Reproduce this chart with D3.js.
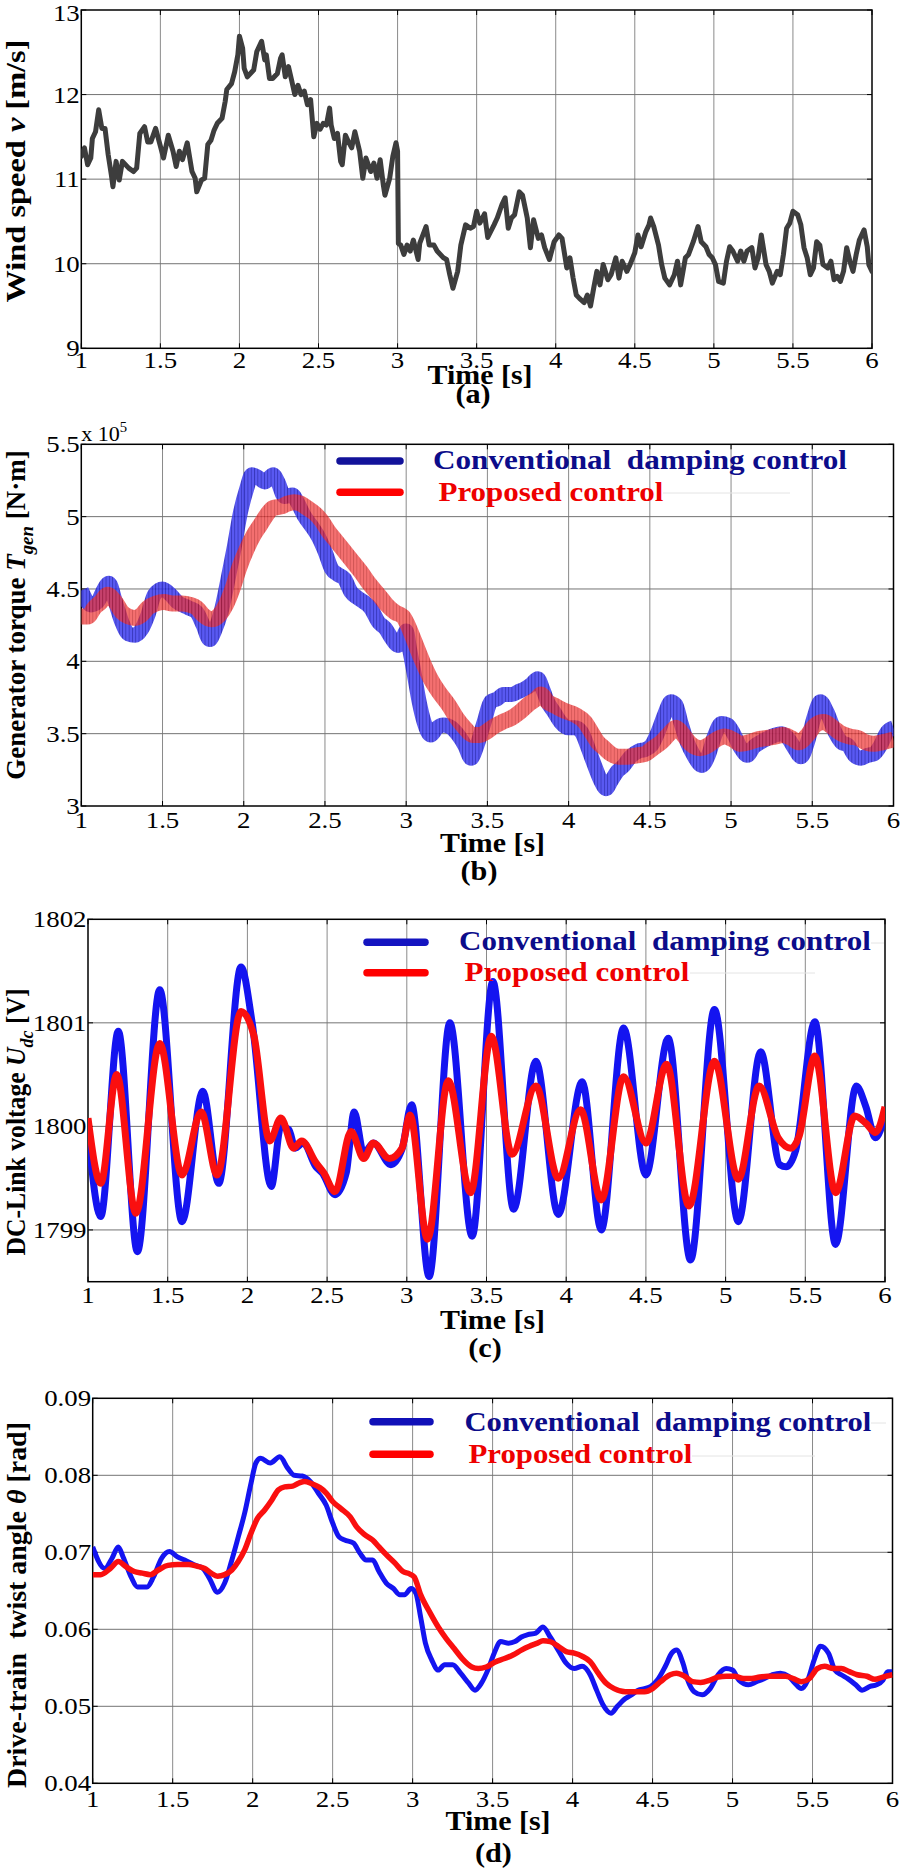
<!DOCTYPE html>
<html><head><meta charset="utf-8">
<script src="https://cdnjs.cloudflare.com/ajax/libs/d3/7.8.5/d3.min.js"></script>
<style>body{margin:0;background:#fff}svg{display:block}</style>
</head><body>
<svg id="chart" width="904" height="1868"></svg>
<script>
// ---------------- DATA ----------------
const timeTicks = [1,1.5,2,2.5,3,3.5,4,4.5,5,5.5,6];
const timeTickLabels = ["1","1.5","2","2.5","3","3.5","4","4.5","5","5.5","6"];
const windTicks = [9,10,11,12,13];
const windTickLabels = ["9","10","11","12","13"];
const torqueTicks = [3,3.5,4,4.5,5,5.5];
const torqueTickLabels = ["3","3.5","4","4.5","5","5.5"];
const voltTicks = [1799,1800,1801,1802];
const voltTickLabels = ["1799","1800","1801","1802"];
const twistTicks = [0.04,0.05,0.06,0.07,0.08,0.09];
const twistTickLabels = ["0.04","0.05","0.06","0.07","0.08","0.09"];
const seriesNames = ["Conventional  damping control","Proposed control"];

const windTime = [1.00,1.02,1.04,1.06,1.07,1.09,1.11,1.13,1.15,1.17,1.19,1.20,1.22,1.24,1.26,1.30,1.33,1.35,1.37,1.40,1.42,1.44,1.47,1.50,1.52,1.55,1.58,1.60,1.62,1.64,1.67,1.70,1.72,1.73,1.76,1.78,1.80,1.82,1.84,1.86,1.89,1.91,1.92,1.95,1.97,1.99,2.00,2.02,2.03,2.05,2.09,2.11,2.14,2.16,2.17,2.19,2.21,2.24,2.26,2.27,2.29,2.31,2.33,2.35,2.37,2.39,2.41,2.43,2.45,2.47,2.49,2.51,2.53,2.55,2.57,2.58,2.60,2.62,2.64,2.65,2.67,2.69,2.71,2.73,2.76,2.78,2.80,2.83,2.85,2.87,2.89,2.91,2.92,2.95,2.97,2.99,3.00,3.005,3.02,3.04,3.06,3.08,3.10,3.13,3.14,3.18,3.20,3.23,3.25,3.29,3.31,3.33,3.35,3.38,3.40,3.43,3.46,3.48,3.50,3.52,3.55,3.57,3.61,3.63,3.66,3.68,3.70,3.72,3.74,3.77,3.79,3.82,3.84,3.86,3.89,3.91,3.93,3.96,3.99,4.02,4.04,4.07,4.09,4.11,4.13,4.15,4.18,4.20,4.22,4.24,4.26,4.28,4.30,4.33,4.35,4.38,4.40,4.42,4.45,4.47,4.50,4.52,4.54,4.57,4.59,4.60,4.62,4.65,4.67,4.69,4.72,4.75,4.77,4.79,4.82,4.84,4.87,4.90,4.92,4.95,4.97,4.99,5.01,5.03,5.06,5.08,5.10,5.12,5.15,5.17,5.19,5.21,5.24,5.26,5.28,5.30,5.33,5.35,5.37,5.40,5.42,5.44,5.46,5.48,5.50,5.53,5.55,5.57,5.59,5.61,5.63,5.65,5.67,5.69,5.72,5.74,5.76,5.78,5.80,5.82,5.84,5.86,5.88,5.90,5.92,5.95,5.97,5.98,6.00];
const windSpeed = [11.27,11.37,11.17,11.25,11.48,11.56,11.82,11.60,11.60,11.29,11.05,10.91,11.21,10.99,11.21,11.13,11.09,11.13,11.54,11.62,11.44,11.44,11.60,11.39,11.25,11.52,11.33,11.15,11.33,11.23,11.43,11.09,11.01,10.85,10.99,11.01,11.41,11.46,11.58,11.66,11.72,11.92,12.06,12.13,12.27,12.47,12.69,12.55,12.31,12.21,12.29,12.51,12.63,12.41,12.47,12.19,12.19,12.25,12.43,12.47,12.21,12.33,12.17,12.00,12.11,12.00,12.04,11.88,11.94,11.50,11.66,11.59,11.66,11.64,11.84,11.64,11.48,11.54,11.21,11.17,11.52,11.44,11.37,11.56,11.33,11.01,11.25,11.09,11.19,11.01,11.23,10.93,10.81,11.01,11.27,11.43,11.33,10.24,10.22,10.11,10.22,10.15,10.28,10.05,10.24,10.44,10.22,10.22,10.15,10.07,10.05,9.87,9.71,9.91,10.22,10.46,10.42,10.44,10.62,10.48,10.59,10.31,10.46,10.54,10.70,10.78,10.42,10.54,10.58,10.85,10.81,10.54,10.19,10.52,10.30,10.34,10.19,10.05,10.26,10.34,10.30,9.95,10.07,9.83,9.63,9.59,9.54,9.63,9.50,9.71,9.91,9.75,9.99,9.81,9.87,10.07,9.83,10.03,9.91,9.99,10.13,10.34,10.20,10.38,10.46,10.54,10.44,10.22,9.99,9.83,9.75,9.87,10.03,9.75,10.07,10.11,10.26,10.44,10.26,10.20,10.11,10.07,9.99,9.79,9.77,10.03,10.20,10.15,10.03,10.15,10.03,10.15,10.19,9.95,10.07,10.34,9.99,9.91,9.77,9.91,9.87,10.11,10.42,10.48,10.62,10.58,10.46,10.19,10.07,9.87,9.95,10.26,10.22,9.99,9.95,10.03,9.81,9.85,9.79,9.91,10.19,10.03,9.91,10.11,10.28,10.40,10.20,9.99,9.91];

// Generator torque, x 10^5 N·m
const torqueConvTime = [1.00,1.06,1.10,1.14,1.17,1.21,1.25,1.29,1.33,1.37,1.41,1.45,1.50,1.55,1.59,1.66,1.71,1.75,1.79,1.82,1.86,1.90,1.94,1.98,2.02,2.05,2.09,2.13,2.18,2.21,2.25,2.30,2.33,2.37,2.42,2.46,2.50,2.54,2.58,2.62,2.66,2.70,2.74,2.78,2.83,2.87,2.91,2.95,2.98,3.00,3.02,3.05,3.08,3.11,3.15,3.19,3.23,3.28,3.32,3.36,3.40,3.43,3.48,3.52,3.56,3.60,3.65,3.69,3.73,3.77,3.81,3.84,3.87,3.91,3.95,4.00,4.04,4.08,4.12,4.16,4.20,4.23,4.26,4.30,4.34,4.38,4.43,4.47,4.51,4.55,4.59,4.63,4.66,4.69,4.73,4.77,4.82,4.86,4.90,4.94,4.98,5.02,5.06,5.10,5.14,5.18,5.23,5.27,5.31,5.35,5.39,5.43,5.47,5.51,5.55,5.59,5.64,5.68,5.72,5.76,5.80,5.84,5.88,5.92,5.96,6.00];
const torqueConvValue = [4.49,4.39,4.41,4.50,4.54,4.41,4.27,4.19,4.18,4.22,4.32,4.46,4.50,4.46,4.41,4.37,4.34,4.25,4.15,4.21,4.34,4.55,4.78,5.03,5.20,5.29,5.27,5.24,5.29,5.24,5.14,5.15,5.10,5.01,4.93,4.86,4.76,4.64,4.60,4.57,4.48,4.44,4.41,4.37,4.27,4.23,4.16,4.11,4.16,4.21,4.09,3.91,3.72,3.58,3.49,3.54,3.56,3.54,3.49,3.42,3.33,3.40,3.58,3.72,3.74,3.77,3.77,3.79,3.81,3.84,3.88,3.81,3.72,3.65,3.58,3.54,3.54,3.51,3.40,3.28,3.17,3.12,3.17,3.24,3.28,3.34,3.38,3.39,3.42,3.51,3.63,3.72,3.70,3.58,3.44,3.35,3.28,3.35,3.49,3.57,3.56,3.49,3.40,3.35,3.41,3.44,3.47,3.49,3.50,3.47,3.40,3.34,3.44,3.61,3.72,3.65,3.51,3.44,3.42,3.35,3.33,3.35,3.36,3.42,3.51,3.54];
const torquePropTime = [1.00,1.04,1.08,1.12,1.16,1.21,1.25,1.29,1.33,1.37,1.41,1.46,1.51,1.56,1.62,1.67,1.71,1.75,1.80,1.85,1.89,1.93,1.97,2.02,2.06,2.10,2.14,2.18,2.23,2.27,2.31,2.35,2.39,2.44,2.48,2.52,2.57,2.62,2.67,2.72,2.77,2.83,2.88,2.93,2.98,3.01,3.05,3.10,3.15,3.20,3.26,3.31,3.36,3.41,3.45,3.49,3.54,3.59,3.65,3.70,3.75,3.80,3.83,3.87,3.92,3.97,4.04,4.10,4.14,4.18,4.22,4.26,4.31,4.36,4.42,4.47,4.52,4.57,4.62,4.66,4.70,4.75,4.81,4.86,4.91,4.96,5.01,5.06,5.11,5.16,5.22,5.27,5.32,5.37,5.42,5.47,5.52,5.57,5.63,5.68,5.73,5.78,5.83,5.88,5.93,6.00];
const torquePropValue = [4.31,4.31,4.37,4.41,4.46,4.41,4.34,4.31,4.30,4.32,4.37,4.40,4.41,4.40,4.40,4.39,4.37,4.32,4.29,4.32,4.39,4.50,4.64,4.78,4.87,4.94,5.01,5.06,5.07,5.09,5.10,5.09,5.06,5.02,4.97,4.90,4.83,4.76,4.69,4.62,4.54,4.46,4.39,4.34,4.31,4.25,4.14,4.00,3.88,3.79,3.70,3.61,3.54,3.49,3.49,3.51,3.55,3.58,3.61,3.65,3.70,3.74,3.77,3.72,3.69,3.66,3.63,3.58,3.51,3.44,3.40,3.36,3.34,3.34,3.35,3.36,3.40,3.44,3.50,3.54,3.50,3.43,3.40,3.42,3.46,3.48,3.46,3.43,3.44,3.46,3.47,3.48,3.49,3.47,3.44,3.49,3.56,3.58,3.54,3.50,3.48,3.47,3.44,3.43,3.44,3.46];

// DC-link voltage [V]
const voltConvTime = [1.00,1.08,1.19,1.31,1.45,1.59,1.72,1.82,1.96,2.03,2.15,2.21,2.26,2.30,2.35,2.43,2.47,2.55,2.62,2.67,2.73,2.79,2.90,2.97,3.03,3.14,3.27,3.41,3.54,3.67,3.81,3.95,4.10,4.22,4.36,4.50,4.64,4.78,4.93,5.08,5.22,5.34,5.38,5.44,5.56,5.69,5.82,5.88,5.94,6.00];
const voltConvValue = [1799.95,1799.13,1800.92,1798.79,1801.32,1799.08,1800.34,1799.45,1801.54,1801.00,1799.42,1800.00,1799.97,1799.79,1799.84,1799.61,1799.55,1799.34,1799.55,1800.14,1799.74,1799.84,1799.63,1799.78,1800.21,1798.55,1801.00,1798.94,1801.40,1799.20,1800.63,1799.15,1800.43,1799.00,1800.95,1799.53,1800.85,1798.71,1801.13,1799.08,1800.72,1799.63,1799.61,1799.77,1801.01,1798.86,1800.39,1800.19,1799.89,1800.11];
const voltPropTime = [1.00,1.08,1.18,1.30,1.45,1.59,1.71,1.81,1.96,2.04,2.14,2.21,2.29,2.34,2.43,2.48,2.55,2.65,2.73,2.79,2.89,2.97,3.02,3.13,3.26,3.40,3.53,3.66,3.81,3.95,4.09,4.22,4.36,4.50,4.63,4.77,4.93,5.08,5.21,5.33,5.41,5.46,5.56,5.69,5.81,5.88,5.94,6.00];
const voltPropValue = [1800.08,1799.45,1800.50,1799.16,1800.80,1799.53,1800.14,1799.53,1801.11,1800.88,1799.86,1800.08,1799.79,1799.86,1799.65,1799.55,1799.37,1799.95,1799.69,1799.84,1799.69,1799.79,1800.11,1798.91,1800.44,1799.36,1800.87,1799.73,1800.39,1799.50,1800.16,1799.29,1800.48,1799.84,1800.60,1799.23,1800.63,1799.49,1800.39,1799.89,1799.79,1799.90,1800.68,1799.36,1800.10,1800.03,1799.94,1800.19];

// Drive-train twist angle [rad]
const twistConvTime = [1.00,1.075,1.12,1.16,1.19,1.24,1.28,1.34,1.38,1.43,1.48,1.53,1.575,1.63,1.69,1.73,1.78,1.825,1.87,1.91,1.95,1.99,2.02,2.05,2.11,2.17,2.22,2.26,2.31,2.36,2.41,2.46,2.50,2.54,2.575,2.63,2.67,2.71,2.75,2.79,2.835,2.88,2.92,2.95,2.99,3.02,3.05,3.08,3.12,3.16,3.20,3.25,3.30,3.35,3.39,3.43,3.47,3.51,3.55,3.60,3.64,3.68,3.72,3.77,3.815,3.86,3.91,3.96,4.01,4.06,4.11,4.15,4.19,4.24,4.28,4.33,4.37,4.41,4.45,4.49,4.53,4.58,4.62,4.65,4.69,4.72,4.76,4.81,4.86,4.91,4.96,5.00,5.04,5.10,5.15,5.20,5.25,5.30,5.35,5.39,5.43,5.47,5.51,5.55,5.60,5.64,5.68,5.72,5.77,5.81,5.86,5.90,5.94,5.97,6.00];
const twistConvValue = [0.0707,0.0679,0.0692,0.0707,0.0694,0.0668,0.0655,0.0655,0.0668,0.0692,0.0701,0.0694,0.0690,0.0684,0.0679,0.0666,0.0648,0.0660,0.0690,0.0720,0.0751,0.0790,0.0816,0.0822,0.0816,0.0824,0.0809,0.0800,0.0799,0.0792,0.0777,0.0761,0.0738,0.0720,0.0716,0.0712,0.0699,0.0690,0.0690,0.0675,0.0660,0.0653,0.0645,0.0645,0.0653,0.0647,0.0616,0.0582,0.0560,0.0547,0.0554,0.0554,0.0543,0.0530,0.0521,0.0530,0.0547,0.0569,0.0584,0.0582,0.0584,0.0590,0.0593,0.0595,0.0603,0.0590,0.0573,0.0556,0.0549,0.0552,0.0541,0.0521,0.0502,0.0491,0.0500,0.0510,0.0515,0.0521,0.0523,0.0526,0.0534,0.0552,0.0569,0.0573,0.0556,0.0534,0.0519,0.0515,0.0523,0.0541,0.0549,0.0547,0.0534,0.0528,0.0532,0.0536,0.0541,0.0543,0.0539,0.0530,0.0523,0.0534,0.0560,0.0578,0.0569,0.0547,0.0541,0.0536,0.0528,0.0521,0.0526,0.0528,0.0534,0.0545,0.0545];
const twistPropTime = [1.00,1.05,1.11,1.16,1.21,1.26,1.31,1.36,1.41,1.47,1.53,1.60,1.65,1.70,1.74,1.78,1.825,1.87,1.91,1.95,1.99,2.03,2.075,2.12,2.16,2.20,2.25,2.29,2.325,2.37,2.42,2.46,2.50,2.55,2.61,2.65,2.70,2.75,2.79,2.835,2.89,2.94,2.98,3.01,3.05,3.11,3.16,3.21,3.26,3.31,3.37,3.41,3.46,3.52,3.575,3.63,3.68,3.73,3.78,3.815,3.86,3.91,3.96,4.01,4.06,4.11,4.16,4.21,4.26,4.33,4.39,4.45,4.50,4.55,4.61,4.65,4.70,4.75,4.80,4.86,4.91,4.96,5.01,5.07,5.12,5.17,5.22,5.27,5.33,5.38,5.43,5.48,5.53,5.575,5.63,5.68,5.73,5.78,5.84,5.89,5.94,6.00];
const twistPropValue = [0.0671,0.0671,0.0679,0.0688,0.0681,0.0675,0.0673,0.0671,0.0677,0.0683,0.0684,0.0684,0.0682,0.0679,0.0673,0.0669,0.0671,0.0677,0.0688,0.0703,0.0725,0.0744,0.0755,0.0768,0.0781,0.0785,0.0786,0.0790,0.0792,0.0789,0.0784,0.0777,0.0766,0.0757,0.0746,0.0733,0.0723,0.0716,0.0707,0.0697,0.0686,0.0675,0.0672,0.0668,0.0645,0.0621,0.0603,0.0588,0.0575,0.0562,0.0551,0.0549,0.0551,0.0558,0.0562,0.0567,0.0573,0.0578,0.0582,0.0585,0.0584,0.0578,0.0571,0.0569,0.0565,0.0558,0.0543,0.0530,0.0523,0.0519,0.0519,0.0519,0.0523,0.0532,0.0541,0.0543,0.0539,0.0532,0.0531,0.0534,0.0538,0.0539,0.0539,0.0536,0.0536,0.0538,0.0539,0.0539,0.0539,0.0536,0.0532,0.0536,0.0549,0.0552,0.0549,0.0549,0.0545,0.0541,0.0539,0.0535,0.0538,0.0541];

// ---------------- DRAWING ----------------
const svg = d3.select("#chart");
const FONT = "Liberation Serif";
const SERIF = "'Liberation Serif','Times New Roman',Times,serif";
const SX = 1.12;
const mctx = document.createElement("canvas").getContext("2d");
function measure(parts, size, weight) {
  let w = 0;
  parts.forEach(p => {
    const s = (p.sub ? size * 0.7 : (p.sup ? (p.supSize || size * 0.65) : size));
    mctx.font = `${p.italic ? "italic " : ""}${weight || "normal"} ${s}px '${FONT}'`;
    w += mctx.measureText(p.text).width;
  });
  return w;
}

function addText(parent, x, y, parts, o) {
  const t = parent.append("text")
    .attr("font-family", SERIF)
    .attr("font-size", o.size)
    .attr("font-weight", o.weight || "normal")
    .attr("fill", o.color || "#000")
    .attr("text-anchor", o.anchor || "start")
    .style("white-space", "pre");
  let shift = 0;
  parts.forEach(p => {
    const ts = t.append("tspan").text(p.text);
    if (p.italic) ts.attr("font-style", "italic");
    let target = 0;
    if (p.sub) { ts.attr("font-size", o.size * 0.7); target = o.size * 0.28; }
    if (p.sup) { ts.attr("font-size", p.supSize || o.size * 0.65); target = -o.size * 0.45; }
    if (target !== shift) { ts.attr("dy", target - shift); shift = target; }
  });
  let sx = o.sx || 1;
  if (o.len) sx = o.len / measure(parts, o.size, o.weight);
  t.attr("transform", `translate(${x},${y}) rotate(${o.rotate || 0}) scale(${sx},${o.sy || 1})`);
  return t;
}

const defs = svg.append("defs");
function hatch(id, base, line) {
  const p = defs.append("pattern").attr("id", id).attr("patternUnits", "userSpaceOnUse")
    .attr("width", 3.3).attr("height", 40);
  p.append("rect").attr("width", 3.3).attr("height", 40).attr("fill", base);
  p.append("rect").attr("x", 0).attr("width", 0.9).attr("height", 40).attr("fill", line);
}
hatch("hatchBlue", "#3c3cf0", "#1414b0");
hatch("hatchRed", "#f03838", "#c01414");

const panels = [
  {id:"a", left:81.3, right:872, top:10, bottom:348.3, domain:[9,13], ticks:windTicks, tickLabels:windTickLabels,
   tickBase:368, ylab:[{text:"Wind speed "},{text:"v",italic:true},{text:" [m/s]"}], ylabSize:28, ylabLen:263, ylabX:25, ylabY:171,
   xlabX:480, xlabY:384, capX:473, capY:403, cap:"(a)"},
  {id:"b", left:81.3, right:893.5, top:444.3, bottom:806, domain:[3,5.5], ticks:torqueTicks, tickLabels:torqueTickLabels,
   tickBase:828, ylab:[{text:"Generator torque "},{text:"T",italic:true},{text:"gen",italic:true,sub:true},{text:" [N·m]"}], ylabSize:27, ylabLen:330, ylabX:25, ylabY:615,
   xlabX:492.5, xlabY:851.5, capX:479, capY:880, cap:"(b)",
   legend:{lineX:[340,400], rows:[461,492.3], textX:[433,438.5], base:[469,501], lens:[414,225], lineBlue:"#12129a", faint:[[663,790,493]]}},
  {id:"c", left:88, right:885, top:919.3, bottom:1281.7, domain:[1798.5,1802], ticks:voltTicks, tickLabels:voltTickLabels,
   tickBase:1303, ylab:[{text:"DC-Link voltage "},{text:"U",italic:true},{text:"dc",italic:true,sub:true},{text:" [V]"}], ylabSize:27, ylabLen:267, ylabX:25, ylabY:1122,
   xlabX:492.5, xlabY:1328.5, capX:485, capY:1357, cap:"(c)",
   legend:{lineX:[367,425], rows:[942.3,972.7], textX:[459,464.5], base:[950,980.7], lens:[412,225], lineBlue:"#1414c0", faint:[[871,884,943],[690,815,973]]}},
  {id:"d", left:92.7, right:892.5, top:1398.3, bottom:1783.3, domain:[0.04,0.09], ticks:twistTicks, tickLabels:twistTickLabels,
   tickBase:1807, ylab:[{text:"Drive-train  twist angle "},{text:"θ",italic:true},{text:" [rad]"}], ylabSize:27, ylabLen:366, ylabX:26, ylabY:1605,
   xlabX:498, xlabY:1830, capX:493.4, capY:1862, cap:"(d)",
   legend:{lineX:[373,430], rows:[1421.7,1454.3], textX:[464.5,468.5], base:[1430.7,1462.7], lens:[407,224], lineBlue:"#1010b8", faint:[[871,886,1423],[692,815,1456]]}}
];

panels.forEach(P => {
  const g = svg.append("g");
  const x = d3.scaleLinear().domain([1, 6]).range([P.left, P.right]);
  const y = d3.scaleLinear().domain(P.domain).range([P.bottom, P.top]);
  P.x = x; P.y = y;

  // grid
  g.append("g").selectAll("line").data(timeTicks.slice(1, -1)).join("line")
    .attr("x1", d => x(d)).attr("x2", d => x(d)).attr("y1", P.top).attr("y2", P.bottom)
    .attr("stroke", "#8a8a8a").attr("stroke-width", 1);
  g.append("g").selectAll("line").data(P.ticks.filter(t => y(t) > P.top + 1 && y(t) < P.bottom - 1)).join("line")
    .attr("x1", P.left).attr("x2", P.right).attr("y1", d => y(d)).attr("y2", d => y(d))
    .attr("stroke", "#737373").attr("stroke-width", 1);

  // inward ticks
  const tk = 5;
  const tg = g.append("g").attr("stroke", "#000").attr("stroke-width", 1);
  timeTicks.forEach(t => {
    tg.append("line").attr("x1", x(t)).attr("x2", x(t)).attr("y1", P.bottom).attr("y2", P.bottom - tk);
    tg.append("line").attr("x1", x(t)).attr("x2", x(t)).attr("y1", P.top).attr("y2", P.top + tk);
  });
  P.ticks.forEach(t => {
    tg.append("line").attr("x1", P.left).attr("x2", P.left + tk).attr("y1", y(t)).attr("y2", y(t));
    tg.append("line").attr("x1", P.right).attr("x2", P.right - tk).attr("y1", y(t)).attr("y2", y(t));
  });

  // axes box
  g.append("rect").attr("x", P.left).attr("y", P.top).attr("width", P.right - P.left).attr("height", P.bottom - P.top)
    .attr("fill", "none").attr("stroke", "#000").attr("stroke-width", 1.5);

  // tick labels
  timeTicks.forEach((t, i) => addText(g, x(t), P.tickBase, [{text: timeTickLabels[i]}], {size: 24, anchor: "middle", sx: SX}));
  P.ticks.forEach((t, i) => addText(g, P.left - 1.5, Math.max(y(t) + 8, 21), [{text: P.tickLabels[i]}], {size: 24, anchor: "end", sx: SX}));

  // axis titles
  addText(g, P.xlabX, P.xlabY, [{text: "Time [s]"}], {size: 27, weight: "bold", anchor: "middle", len: 105});
  addText(g, P.capX, P.capY, [{text: P.cap}], {size: 27, weight: "bold", anchor: "middle", sx: SX});
  addText(g, P.ylabX, P.ylabY, P.ylab, {size: P.ylabSize, weight: "bold", anchor: "middle", rotate: -90, len: P.ylabLen});

  // clip
  defs.append("clipPath").attr("id", "clip" + P.id).append("rect")
    .attr("x", P.left).attr("y", P.top).attr("width", P.right - P.left).attr("height", P.bottom - P.top);
  P.plot = g.append("g").attr("clip-path", `url(#clip${P.id})`);
  P.g = g;
});

function series(times, values) { return times.map((t, i) => [t, values[i]]); }

// (a) wind speed
{
  const P = panels[0];
  const line = d3.line().x(d => P.x(d[0])).y(d => P.y(d[1])).curve(d3.curveLinear);
  P.plot.append("path").attr("d", line(series(windTime, windSpeed)))
    .attr("fill", "none").attr("stroke", "#3d3d3d").attr("stroke-width", 5)
    .attr("stroke-linejoin", "round").attr("stroke-linecap", "round");
}

// (b) torque bands (fast oscillation envelope drawn as wide hatched strokes)
{
  const P = panels[1];
  const line = d3.line().x(d => P.x(d[0])).y(d => P.y(d[1])).curve(d3.curveMonotoneX);
  P.plot.append("path").attr("d", line(series(torqueConvTime, torqueConvValue)))
    .attr("fill", "none").attr("stroke", "url(#hatchBlue)").attr("stroke-width", 15).attr("opacity", 0.85);
  P.plot.append("path").attr("d", line(series(torquePropTime, torquePropValue)))
    .attr("fill", "none").attr("stroke", "url(#hatchRed)").attr("stroke-width", 16).attr("opacity", 0.72);
  addText(P.g, P.left, 441, [{text: "x 10"}, {text: "5", sup: true, supSize: 14}], {size: 21, sx: 1.05});
}

// (c) voltage
{
  const P = panels[2];
  const line = d3.line().x(d => P.x(d[0])).y(d => P.y(d[1])).curve(d3.curveMonotoneX);
  P.plot.append("path").attr("d", line(series(voltConvTime, voltConvValue)))
    .attr("fill", "none").attr("stroke", "#1414f0").attr("stroke-width", 7).attr("stroke-linejoin", "round");
  P.plot.append("path").attr("d", line(series(voltPropTime, voltPropValue)))
    .attr("fill", "none").attr("stroke", "#fa0f0f").attr("stroke-width", 7).attr("stroke-linejoin", "round");
}

// (d) twist angle
{
  const P = panels[3];
  const line = d3.line().x(d => P.x(d[0])).y(d => P.y(d[1])).curve(d3.curveMonotoneX);
  P.plot.append("path").attr("d", line(series(twistConvTime, twistConvValue)))
    .attr("fill", "none").attr("stroke", "#1414f0").attr("stroke-width", 5).attr("stroke-linejoin", "round");
  P.plot.append("path").attr("d", line(series(twistPropTime, twistPropValue)))
    .attr("fill", "none").attr("stroke", "#fa0f0f").attr("stroke-width", 5.5).attr("stroke-linejoin", "round");
}

// legends
panels.filter(P => P.legend).forEach(P => {
  const L = P.legend, g = P.g;
  L.faint.forEach(f => g.append("line").attr("x1", f[0]).attr("x2", f[1]).attr("y1", f[2]).attr("y2", f[2])
    .attr("stroke", "#e4e4e4").attr("stroke-width", 1));
  const colors = [L.lineBlue, "#ff0000"];
  const textColors = ["#0c0c8a", "#ee0000"];
  [0, 1].forEach(i => {
    g.append("line").attr("x1", L.lineX[0]).attr("x2", L.lineX[1]).attr("y1", L.rows[i]).attr("y2", L.rows[i])
      .attr("stroke", colors[i]).attr("stroke-width", 7.5).attr("stroke-linecap", "round");
    addText(g, L.textX[i], L.base[i], [{text: seriesNames[i]}], {size: 27.5, weight: "bold", color: textColors[i], len: L.lens[i]});
  });
});
</script>
</body></html>
